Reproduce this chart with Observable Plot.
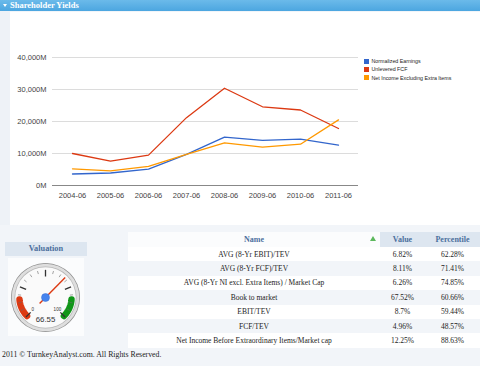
<!DOCTYPE html>
<html><head><meta charset="utf-8">
<script src="https://cdn.jsdelivr.net/npm/d3@7"></script>
<script src="https://cdn.jsdelivr.net/npm/@observablehq/plot@0.6"></script>
<style>
html,body{margin:0;padding:0;}
body{width:480px;height:366px;position:relative;overflow:hidden;background:#f2f5f9;font-family:"Liberation Serif",serif;}
.abs{position:absolute;}
#hdr{left:0;top:0;width:480px;height:11px;background:linear-gradient(#6bbaea,#4ca6e0);}
#hdr span{position:absolute;left:10px;top:0px;font:bold 8.5px "Liberation Serif",serif;color:#fff;line-height:11px;}
#tri{left:3px;top:4px;width:0;height:0;border-left:2px solid transparent;border-right:2px solid transparent;border-top:3px solid #fff;}
#strip{left:0;top:11px;width:10px;height:214px;background:#eef2f7;}
#panel{left:10px;top:12px;width:470px;height:213px;background:#fff;}
#legend{left:364px;top:57px;font:5.3px "Liberation Sans",Arial,sans-serif;color:#222;}
#legend div{height:8.3px;display:flex;align-items:center;}
#legend i{display:inline-block;width:5px;height:5px;margin-right:2.5px;}
#valhdr{left:5px;top:242px;width:82px;height:14px;background:#dde6f0;text-align:center;font:bold 8.3px "Liberation Serif",serif;color:#4b6f9d;line-height:14px;}
#gbox{left:8px;top:258px;width:76px;height:78px;background:#fbfcfd;}
#tbl{left:128px;top:232px;width:352px;border-collapse:collapse;font:7.5px "Liberation Serif",serif;color:#222;}
#tbl td,#tbl th{padding:0;text-align:center;}
#tbl th{height:15px;font:bold 8px "Liberation Serif",serif;color:#4b6f9d;}
#tbl td{height:14.4px;}
#tbl tr.odd td{background:#fff;}
#tbl th.sh{background:#dde6f0;}
#foot{left:2px;top:350px;font:7.8px "Liberation Serif",serif;color:#222;}
</style></head>
<body>
<div id="hdr" class="abs"><span>Shareholder Yields</span></div>
<div id="tri" class="abs"></div>
<div id="strip" class="abs"></div>
<div id="panel" class="abs"></div>
<div id="chart" class="abs" style="left:10px;top:12px;"></div>
<div id="legend" class="abs"></div>
<div id="valhdr" class="abs">Valuation</div>
<div id="gbox" class="abs"></div>
<div id="gauge" class="abs" style="left:10px;top:262px;"></div>
<table id="tbl" class="abs"></table>
<div id="foot" class="abs">2011 © TurnkeyAnalyst.com. All Rights Reserved.</div>
<script>
// ---- data ----
const years = ["2004-06","2005-06","2006-06","2007-06","2008-06","2009-06","2010-06","2011-06"];
const seriesNames = ["Normalized Earnings","Unlevered FCF","Net Income Excluding Extra Items"];
const seriesColors = ["#3366cc","#dc3912","#ff9900"];
const normalizedEarnings = [3600,3900,5100,9700,15100,14100,14500,12600];
const unleveredFCF = [10000,7600,9500,21200,30400,24600,23600,17800];
const netIncomeExcl = [5200,4600,6000,9700,13300,12000,12900,20500];
const yTicks = [0,10000,20000,30000,40000];

const gaugeValue = 66.55;
const gaugeMin = 0, gaugeMax = 100;
const gaugeMajorTicks = [0,25,50,75,100];
const gaugeMinorTicks = [6.25,12.5,18.75,31.25,37.5,43.75,56.25,62.5,68.75,81.25,87.5,93.75];
const gaugeBands = [{from:0,to:15,color:"#dc3912"},{from:85,to:100,color:"#109618"}];

const tableNames = ["AVG (8-Yr EBIT)/TEV","AVG (8-Yr FCF)/TEV","AVG (8-Yr NI excl. Extra Items) / Market Cap","Book to market","EBIT/TEV","FCF/TEV","Net Income Before Extraordinary Items/Market cap"];
const tableValues = ["6.82%","8.11%","6.26%","67.52%","8.7%","4.96%","12.25%"];
const tablePercentiles = ["62.28%","71.41%","74.85%","60.66%","59.44%","48.57%","88.63%"];

// ---- line chart ----
const seriesValues = [normalizedEarnings, unleveredFCF, netIncomeExcl];
const rows = [];
seriesNames.forEach((s,i)=>years.forEach((y,j)=>rows.push({series:s,year:y,value:seriesValues[i][j]})));

const chart = Plot.plot({
  width:470, height:212,
  marginLeft:42, marginRight:122, marginTop:45, marginBottom:39,
  style:{fontFamily:"'Liberation Sans',Arial,sans-serif", fontSize:"7.5px", color:"#444", background:"transparent"},
  x:{type:"point", domain:years, padding:0.5, label:null},
  y:{domain:[0,40000], label:null},
  color:{domain:seriesNames, range:seriesColors},
  marks:[
    Plot.ruleY(yTicks.filter(d=>d>0),{stroke:"#dcdcdc",strokeWidth:1}),
    Plot.ruleY([0],{stroke:"#888",strokeWidth:1.2}),
    Plot.axisY({ticks:yTicks, tickSize:0, tickPadding:6, tickFormat:d=>d3.format(",")(d)+"M", fill:"#444"}),
    Plot.axisX({tickSize:0, tickPadding:7, fill:"#444"}),
    Plot.line(rows,{x:"year",y:"value",stroke:"series",strokeWidth:1.3,curve:"linear"})
  ]
});
document.getElementById("chart").appendChild(chart);

const lg = document.getElementById("legend");
seriesNames.forEach((s,i)=>{
  const d=document.createElement("div");
  d.innerHTML=`<i style="background:${seriesColors[i]}"></i>${s}`;
  lg.appendChild(d);
});

// ---- gauge ----
const ang = v => (-135 + (v-gaugeMin)/(gaugeMax-gaugeMin)*270) * Math.PI/180;
const pt = (v,r) => ({x: r*Math.sin(ang(v)), y: r*Math.cos(ang(v))});
const bandPts = [];
gaugeBands.forEach((b,bi)=>{
  const n=20;
  for(let k=0;k<=n;k++){const v=b.from+(b.to-b.from)*k/n; bandPts.push({...pt(v,0.745),band:bi,color:b.color});}
});
const tickLinks = gaugeMajorTicks.map(v=>({a:pt(v,0.6),b:pt(v,0.79),w:1.3,c:"#333"}))
  .concat(gaugeMinorTicks.map(v=>({a:pt(v,0.7),b:pt(v,0.79),w:0.6,c:"#666"})));
const tip = pt(gaugeValue,0.8), tail = pt(gaugeValue,-0.24);

const gauge = Plot.plot({
  width:70, height:70, margin:0,
  x:{domain:[-1,1], axis:null}, y:{domain:[-1,1], axis:null},
  style:{background:"transparent", fontFamily:"'Liberation Sans',Arial,sans-serif"},
  marks:[
    Plot.dot([0],{x:0,y:0,r:34.5,fill:"#8c8c8c"}),
    Plot.dot([0],{x:0,y:0,r:33.8,fill:"#dedede"}),
    Plot.dot([0],{x:0,y:0,r:31,fill:"#b5b5b5"}),
    Plot.dot([0],{x:0,y:0,r:30.3,fill:"#fafafa"}),
    Plot.line(bandPts,{x:"x",y:"y",z:"band",stroke:"color",strokeWidth:6.5}),
    Plot.link(tickLinks,{x1:d=>d.a.x,y1:d=>d.a.y,x2:d=>d.b.x,y2:d=>d.b.y,stroke:"c",strokeWidth:"w"}),
    Plot.text([{t:String(gaugeMin),...pt(gaugeMin,0.5)},{t:String(gaugeMax),...pt(gaugeMax,0.5)}],{x:"x",y:"y",text:"t",fontSize:4.5,fill:"#333",dx:[2,-3]}),
    Plot.text([String(gaugeValue)],{x:0,y:-0.62,text:d=>d,fontSize:7.8,fill:"#333"}),
    Plot.link([0],{x1:tail.x,y1:tail.y,x2:tip.x,y2:tip.y,stroke:"#dc3912",strokeWidth:1.4}),
    Plot.dot([0],{x:0,y:0,r:4,fill:"#4684ee",stroke:"#3a6fd0",strokeWidth:0.5})
  ]
});
document.getElementById("gauge").appendChild(gauge);

// ---- table ----
const tbl = document.getElementById("tbl");
let html = `<tr><th style="width:252px;background:#fbfcfd;position:relative">Name<span style="position:absolute;right:4px;top:4px;width:0;height:0;border-left:3px solid transparent;border-right:3px solid transparent;border-bottom:5px solid #5cb85c"></span></th><th class="sh" style="width:45px">Value</th><th class="sh">Percentile</th></tr>`;
tableNames.forEach((n,i)=>{
  html += `<tr class="${i%2===0?'odd':''}"><td>${n}</td><td>${tableValues[i]}</td><td>${tablePercentiles[i]}</td></tr>`;
});
tbl.innerHTML = html;
</script>
</body></html>
